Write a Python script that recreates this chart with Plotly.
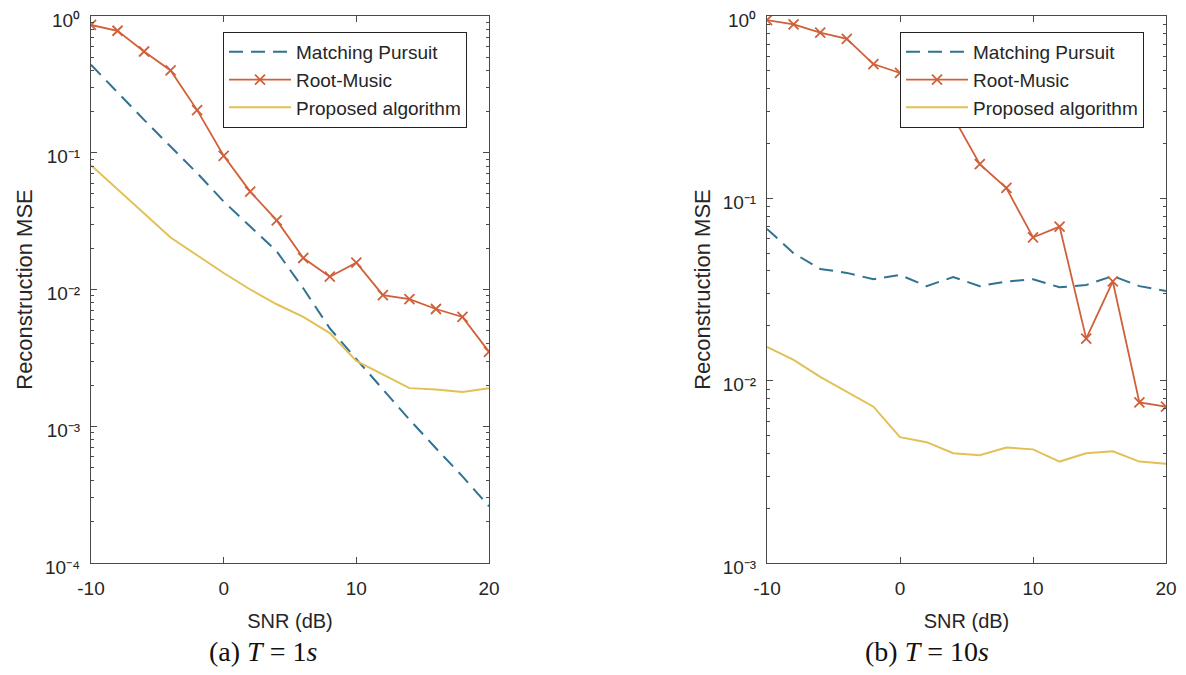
import plotly.graph_objects as go

# ---------------- data ----------------
snr = [-10, -8, -6, -4, -2, 0, 2, 4, 6, 8, 10, 12, 14, 16, 18, 20]

# (a) T = 1s
mp_a = [0.44, 0.275, 0.174, 0.111, 0.071, 0.044, 0.029, 0.019, 0.0102, 0.0052,
        0.0031, 0.00186, 0.00112, 0.00069, 0.00043, 0.00026]
rm_a = [0.86, 0.78, 0.55, 0.40, 0.205, 0.095, 0.052, 0.032, 0.017, 0.0124,
        0.0157, 0.0091, 0.0085, 0.0072, 0.0063, 0.0035]
pa_a = [0.081, 0.054, 0.036, 0.024, 0.0178, 0.0132, 0.0100, 0.0078, 0.0063, 0.0048,
        0.0030, 0.0024, 0.0019, 0.00186, 0.00178, 0.0019]

# (b) T = 10s
mp_b = [0.068, 0.050, 0.041, 0.039, 0.036, 0.038, 0.033, 0.037, 0.033, 0.035,
        0.036, 0.0325, 0.0335, 0.0375, 0.033, 0.031]
rm_b = [0.95, 0.90, 0.81, 0.75, 0.545, 0.487, 0.40, 0.28, 0.154, 0.114,
        0.061, 0.070, 0.017, 0.035, 0.0076, 0.0072]
pa_b = [0.0153, 0.013, 0.0105, 0.0087, 0.0072, 0.0049, 0.0046, 0.0040, 0.0039, 0.0043,
        0.0042, 0.0036, 0.0040, 0.0041, 0.0036, 0.0035]

series_names = ["Matching Pursuit", "Root-Music", "Proposed algorithm"]
x_ticks = [-10, 0, 10, 20]
x_labels = ["-10", "0", "10", "20"]
y_decades_a = [1e-4, 1e-3, 1e-2, 1e-1, 1]
y_labels_a = ["10⁻⁴", "10⁻³", "10⁻²", "10⁻¹", "10⁰"]
y_decades_b = [1e-3, 1e-2, 1e-1, 1]
y_labels_b = ["10⁻³", "10⁻²", "10⁻¹", "10⁰"]
captions = ["(a) <i>T</i> = 1<i>s</i>", "(b) <i>T</i> = 10<i>s</i>"]

# ---------------- style ----------------
C_MP = "#2f7391"
C_RM = "#d0603a"
C_PA = "#e3c055"
AX = "#4a4a4a"
TXT = "#262626"
FONT = "Liberation Sans, Arial, sans-serif"
SERIF = "Liberation Serif, DejaVu Serif, serif"

W, H = 1186, 675
OFF = 8  # the page body margin shifts the figure by 8 px

def px(xp):
    return (xp - OFF) / W

def py(yp):
    return 1 - (yp - OFF) / H

fig = go.Figure()

def add_panel(mp, rm, pa, xa, ya, leg):
    fig.add_trace(go.Scatter(x=snr, y=mp, mode="lines", name=series_names[0],
                             line=dict(color=C_MP, width=2, dash="14px,8px"),
                             xaxis=xa, yaxis=ya, legend=leg))
    fig.add_trace(go.Scatter(x=snr, y=rm, mode="lines+markers", name=series_names[1],
                             line=dict(color=C_RM, width=1.8),
                             marker=dict(symbol="x-thin", size=10, color=C_RM,
                                         line=dict(color=C_RM, width=1.8)),
                             xaxis=xa, yaxis=ya, legend=leg))
    fig.add_trace(go.Scatter(x=snr, y=pa, mode="lines", name=series_names[2],
                             line=dict(color=C_PA, width=2),
                             xaxis=xa, yaxis=ya, legend=leg))

add_panel(mp_a, rm_a, pa_a, "x", "y", "legend")
add_panel(mp_b, rm_b, pa_b, "x2", "y2", "legend2")

def minor_vals(lo, hi):
    vals = []
    for e in range(lo, hi):
        for k in range(2, 10):
            vals.append(k * 10 ** e)
    return vals

def xaxis(domain, anchor):
    return dict(domain=domain, anchor=anchor, range=[-10, 20],
                tickmode="array", tickvals=x_ticks, ticktext=x_labels,
                ticks="inside", ticklen=6, tickcolor=AX, tickwidth=1,
                ticklabelstandoff=8, ticklabeloverflow="allow",
                showline=True, linecolor=AX, linewidth=1, mirror="ticks",
                showgrid=False, zeroline=False, automargin=False,
                tickfont=dict(family=FONT, size=19, color=TXT),
                title=dict(text="SNR (dB)", font=dict(family=FONT, size=20, color=TXT), standoff=16))

def yaxis(domain, anchor, lo, tv, tt):
    return dict(domain=domain, anchor=anchor, type="log", range=[lo, 0],
                tickmode="array", tickvals=tv, ticktext=tt,
                ticks="inside", ticklen=6, tickcolor=AX, tickwidth=1,
                ticklabelstandoff=6, ticklabelshift=4, ticklabeloverflow="allow",
                minor=dict(ticks="inside", ticklen=3, tickcolor=AX, tickvals=minor_vals(lo, 0)),
                showline=True, linecolor=AX, linewidth=1, mirror="ticks",
                showgrid=False, zeroline=False, automargin=False,
                tickfont=dict(family=FONT, size=19, color=TXT),
                title=dict(text="Reconstruction MSE", font=dict(family=FONT, size=22, color=TXT), standoff=6))

ydom = [py(563), py(16)]
legend_common = dict(xanchor="left", yanchor="top", bgcolor="white", bordercolor="#222222",
                     borderwidth=1, font=dict(family=FONT, size=19, color=TXT),
                     itemwidth=62, tracegroupgap=0)

fig.update_layout(
    template="none",
    width=W, height=H, autosize=False,
    margin=dict(l=0, r=0, t=0, b=0, autoexpand=False),
    paper_bgcolor="white", plot_bgcolor="white",
    showlegend=True,
    xaxis=xaxis([px(91), px(489)], "y"),
    yaxis=yaxis(ydom, "x", -4, y_decades_a, y_labels_a),
    xaxis2=xaxis([px(767), px(1166)], "y2"),
    yaxis2=yaxis(ydom, "x2", -3, y_decades_b, y_labels_b),
    legend=dict(x=px(223), y=py(32), **legend_common),
    legend2=dict(x=px(900), y=py(32), **legend_common),
    annotations=[
        dict(text=captions[0], x=px(263), y=py(651), xref="paper", yref="paper",
             showarrow=False, xanchor="center", yanchor="middle",
             font=dict(family=SERIF, size=28, color="#111111")),
        dict(text=captions[1], x=px(927), y=py(651), xref="paper", yref="paper",
             showarrow=False, xanchor="center", yanchor="middle",
             font=dict(family=SERIF, size=28, color="#111111")),
    ],
)

fig.write_html("out.html")
